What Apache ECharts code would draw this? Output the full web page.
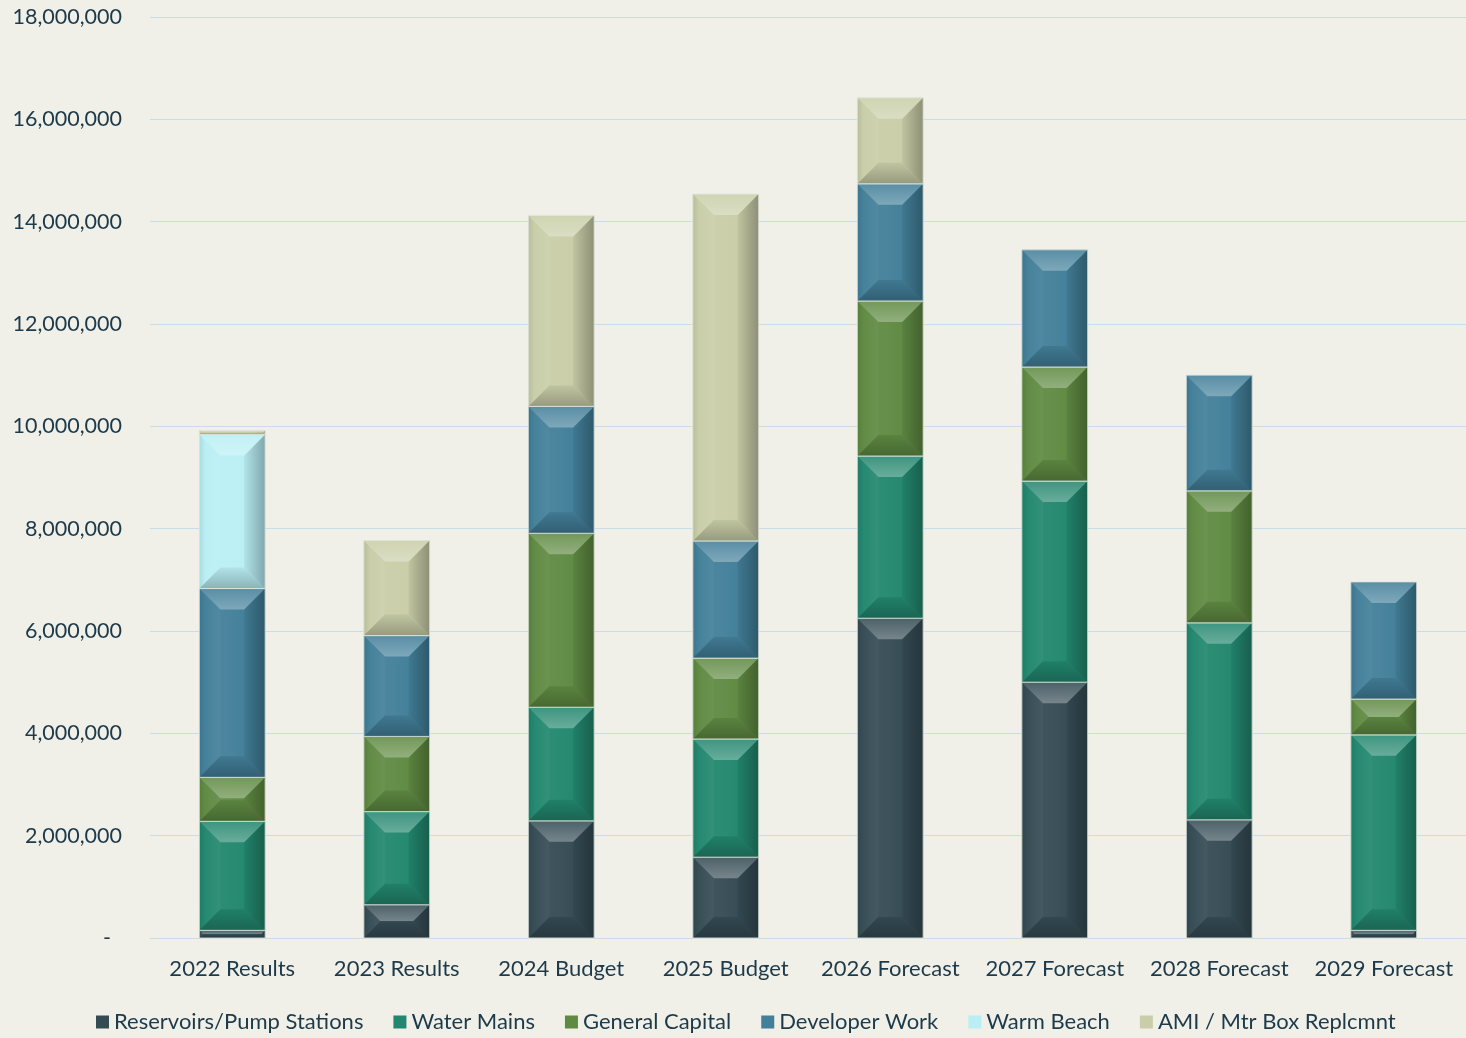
<!DOCTYPE html>
<html>
<head>
<meta charset="utf-8">
<script src="https://cdn.jsdelivr.net/npm/echarts@6/dist/echarts.min.js"></script>
<style>
  html, body { margin: 0; padding: 0; background: #f0f0e8; }
  #chart { width: 1466px; height: 1038px; }
</style>
</head>
<body>
<div id="chart"></div>
<script>
// Capital spending by program, per year
const categories = ['2022 Results', '2023 Results', '2024 Budget', '2025 Budget',
  '2026 Forecast', '2027 Forecast', '2028 Forecast', '2029 Forecast'];

const reservoirsPumpStations = [150000, 650000, 2290000, 1580000, 6250000, 5000000, 2310000, 150000];
const waterMains             = [2130000, 1820000, 2220000, 2310000, 3170000, 3930000, 3850000, 3820000];
const generalCapital         = [860000, 1470000, 3400000, 1580000, 3030000, 2230000, 2580000, 700000];
const developerWork          = [3690000, 1970000, 2480000, 2290000, 2290000, 2290000, 2260000, 2290000];
const warmBeach              = [3010000, 0, 0, 0, 0, 0, 0, 0];
const amiMeterBox            = [80000, 1860000, 3730000, 6780000, 1680000, 0, 0, 0];

const yTicks = { min: 0, max: 18000000, interval: 2000000 };

const seriesDefs = [
  { name: 'Reservoirs/Pump Stations', values: reservoirsPumpStations, color: '#354b54' },
  { name: 'Water Mains',              values: waterMains,             color: '#22876e' },
  { name: 'General Capital',          values: generalCapital,         color: '#5f8a42' },
  { name: 'Developer Work',           values: developerWork,          color: '#427f99' },
  { name: 'Warm Beach',               values: warmBeach,              color: '#b9eff4' },
  { name: 'AMI / Mtr Box Replcmnt',   values: amiMeterBox,            color: '#c9cea8' }
];

function hexToRgb(h) {
  const n = parseInt(h.slice(1), 16);
  return [(n >> 16) & 255, (n >> 8) & 255, n & 255];
}
function mix(h, target, t) {
  const a = hexToRgb(h), b = hexToRgb(target);
  const c = a.map((v, i) => Math.round(v + (b[i] - v) * t));
  return 'rgb(' + c.join(',') + ')';
}
const lighten = (h, t) => mix(h, '#ffffff', t);
const darken = (h, t) => mix(h, '#000000', t);

// Stack the segments: each item is [categoryIndex, base, top]
const running = categories.map(() => 0);
const series = seriesDefs.map(def => {
  const data = def.values.map((v, i) => {
    const base = running[i];
    running[i] += v;
    return [i, base, base + v];
  });
  const c = def.color;
  return {
    name: def.name,
    type: 'custom',
    itemStyle: { color: c },
    encode: { x: 0, y: [1, 2] },
    data: data,
    renderItem: function (params, api) {
      const x = api.value(0), y0 = api.value(1), y1 = api.value(2);
      if (y1 - y0 <= 0) return;
      const pb = api.coord([x, y0]);
      const pt = api.coord([x, y1]);
      const bw = api.size([1, 0])[0] * 0.4;
      const L = pb[0] - bw / 2, R = L + bw;
      const T = pt[1], B = pb[1];
      const h = B - T;
      const d = Math.max(0, Math.min(21, h / 2, bw / 3));
      const body = {
        type: 'rect',
        shape: { x: L, y: T, width: bw, height: h },
        style: {
          fill: new echarts.graphic.LinearGradient(0, 0, 1, 0, [
            { offset: 0, color: darken(c, 0.15) },
            { offset: 0.06, color: lighten(c, 0.06) },
            { offset: 0.45, color: lighten(c, 0.04) },
            { offset: 0.8, color: c },
            { offset: 1, color: darken(c, 0.3) }
          ])
        }
      };
      const topBevel = {
        type: 'polygon',
        shape: { points: [[L, T], [R, T], [R - d, T + d], [L + d, T + d]] },
        style: {
          fill: new echarts.graphic.LinearGradient(0, 0, 0, 1, [
            { offset: 0, color: lighten(c, 0.12) },
            { offset: 1, color: lighten(c, 0.32) }
          ])
        }
      };
      const bottomBevel = {
        type: 'polygon',
        shape: { points: [[L, B], [R, B], [R - d, B - d], [L + d, B - d]] },
        style: {
          fill: new echarts.graphic.LinearGradient(0, 0, 0, 1, [
            { offset: 0, color: darken(c, 0.05) },
            { offset: 1, color: darken(c, 0.25) }
          ])
        }
      };
      const rightBevel = {
        type: 'polygon',
        shape: { points: [[R, T], [R - d, T + d], [R - d, B - d], [R, B]] },
        style: {
          fill: new echarts.graphic.LinearGradient(0, 0, 1, 0, [
            { offset: 0, color: darken(c, 0.05) },
            { offset: 1, color: darken(c, 0.3) }
          ])
        }
      };
      const leftBevel = {
        type: 'polygon',
        shape: { points: [[L, T], [L + d, T + d], [L + d, B - d], [L, B]] },
        style: {
          fill: new echarts.graphic.LinearGradient(0, 0, 1, 0, [
            { offset: 0, color: darken(c, 0.08) },
            { offset: 0.3, color: lighten(c, 0.02) },
            { offset: 1, color: lighten(c, 0.08) }
          ])
        }
      };
      return {
        type: 'group',
        children: [body, leftBevel, rightBevel, topBevel, bottomBevel, {
          type: 'rect',
          shape: { x: L, y: T, width: bw, height: h },
          style: { fill: 'none', stroke: 'rgba(225,232,222,0.85)', lineWidth: 1 }
        }]
      };
    }
  };
});

const chart = echarts.init(document.getElementById('chart'), null, { renderer: 'canvas' });
chart.setOption({
  backgroundColor: '#f0f0e8',
  textStyle: { fontFamily: 'Lato' },
  animation: false,
  grid: { left: 150, right: 0, top: 17, bottom: 100, containLabel: false },
  legend: {
    bottom: 0,
    left: 91,
    itemWidth: 13,
    itemHeight: 13,
    itemGap: 30,
    icon: 'rect',
    textStyle: { fontSize: 22, color: '#1d3a4a', fontFamily: 'Lato' },
    data: seriesDefs.map(s => s.name)
  },
  xAxis: {
    type: 'category',
    data: categories,
    axisLine: { show: true, lineStyle: { color: '#c8dde9', width: 1 } },
    axisTick: { show: false },
    axisLabel: { fontSize: 22, color: '#1d3a4a', margin: 20, interval: 0 },
    splitLine: { show: false }
  },
  yAxis: {
    type: 'value',
    min: yTicks.min,
    max: yTicks.max,
    interval: yTicks.interval,
    axisLine: { show: false },
    axisTick: { show: false },
    axisLabel: {
      fontSize: 21.5,
      color: '#1d3a4a',
      margin: 28,
      formatter: v => v === 0 ? '-  ' : v.toLocaleString('en-US')
    },
    splitLine: { lineStyle: { color: '#c8dde9', width: 1 } }
  },
  series: series
});
</script>
</body>
</html>
